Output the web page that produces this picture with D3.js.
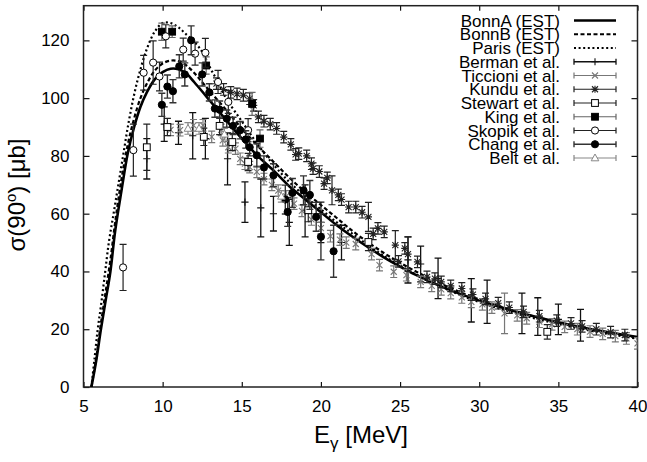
<!DOCTYPE html>
<html><head><meta charset="utf-8">
<script src="https://cdn.jsdelivr.net/npm/d3@7"></script>
<style>body{margin:0;background:#fff} svg{display:block} text{font-family:"Liberation Sans",Arial,Helvetica,sans-serif;fill:#000}</style>
</head><body><svg id="c" width="647" height="462"></svg>
<script>
// ---- axis ticks ----
const xTicks = [5, 10, 15, 20, 25, 30, 35, 40];
const yTicks = [0, 20, 40, 60, 80, 100, 120];

// ---- model curves ----
const curveE = [5.5, 5.8, 6.1, 6.4, 6.7, 7.0, 7.4, 7.8, 8.2, 8.6, 9.0, 9.5, 10.0, 10.5, 11.0, 11.5, 12.0, 12.5, 13.0, 14.0, 15.0, 16.0, 17.0, 18.0, 19.0, 20.0, 21.0, 22.0, 23.0, 24.0, 25.0, 26.0, 27.0, 28.0, 29.0, 30.0, 31.0, 32.0, 33.0, 34.0, 35.0, 36.0, 37.0, 38.0, 39.0, 40.0];
const bonnA = [0, 9, 20, 30, 40, 54, 68, 81, 90, 97, 102, 106.5, 109, 110.2, 110, 108.5, 105.5, 102.3, 99, 92.5, 86, 80, 75, 69.5, 65, 60.5, 56, 52, 48.3, 44.8, 41.7, 38.8, 36.2, 33.9, 31.8, 29.9, 28.2, 26.6, 25.1, 23.7, 22.4, 21.2, 20.1, 19.1, 18.2, 17.3];
const bonnB = [0, 10, 22, 33, 44, 57, 72, 84, 93, 100, 105, 109.5, 112, 113, 112.8, 111.3, 108.7, 105.5, 102.3, 96, 89.5, 83.5, 78, 72.5, 67.5, 63, 58.5, 54, 50, 46.3, 43, 40, 37.2, 34.7, 32.4, 30.3, 28.4, 26.7, 25.1, 23.7, 22.3, 21.0, 19.9, 18.9, 18.0, 17.1];
const parisE = [5.5, 5.7, 5.9, 6.1, 6.35, 6.6, 6.9, 7.2, 7.5, 7.8, 8.15, 8.5, 9.0, 9.5, 10.0, 10.5, 11.0, 11.5, 12.0, 12.5, 13.0, 13.5, 14.0, 15.0, 16.0, 17.0, 18.0, 19.0, 20.0, 21.0, 22.0, 23.0, 24.0, 25.0, 26.0, 27.0, 28.0, 29.0, 30.0, 31.0, 32.0, 33.0, 34.0, 35.0, 36.0, 37.0, 38.0, 39.0, 40.0];
const paris = [0, 10, 20, 28, 39, 50, 60, 70, 80, 90, 100, 108, 117, 123, 126, 126, 124.5, 122, 119.5, 116, 110.5, 105.5, 100, 92, 84, 77, 71, 66, 61.5, 57, 53, 49, 45.3, 42, 39, 36.2, 33.7, 31.4, 29.4, 27.6, 26, 24.5, 23.1, 21.8, 20.6, 19.5, 18.5, 17.6, 16.7];

// ---- experimental data: energy, cross section, error ----
const bermanE = [9.0, 10.1, 11.0, 11.9, 12.7, 14.1, 15.2, 16.2, 17.0, 18.0, 19.0, 20.0, 21.3, 25.5, 26.3, 27.4, 29.5, 30.5, 32.7, 33.7, 35.0, 36.4];
const bermanS = [79, 91, 88, 87, 86, 79, 64, 62, 60, 57, 61, 57, 50, 44, 42.6, 37.6, 30, 29.5, 25.5, 24.4, 23.4, 21.4];
const bermanErr = [7, 6, 4, 8, 7, 9, 7, 10, 6, 8, 9, 7, 6, 8, 6.2, 7, 7.5, 7.5, 7, 6.5, 5.3, 5.5];

const ticcE = [10.5, 11.1, 11.95, 12.55, 13.1, 13.7, 13.8, 14.15, 14.6, 14.9, 15.2, 15.5, 15.95, 16.4, 16.9, 17.3, 17.8, 18.3, 18.8, 19.4, 20.0, 20.6, 21.2, 21.6, 22.2, 23.2, 23.7, 24.6, 25.4, 26.3, 27.0, 27.6, 28.2, 28.9, 29.5, 30.2, 30.8, 31.6, 32.4, 33.0, 33.8, 34.6, 35.4, 36.2, 37.0, 37.8, 38.6, 39.3, 40.0];
const ticcS = [89, 88.9, 90.6, 90.6, 86.6, 89, 85.4, 83, 82.5, 79, 77.3, 76.1, 74.5, 72, 70, 68, 66, 63.5, 61, 58, 55, 52.2, 51, 50, 49.5, 46, 42.2, 39.9, 38.7, 36.4, 35, 33.8, 32.5, 31, 29.5, 28.6, 27.5, 25.5, 24.8, 23.8, 22.6, 21.7, 20.8, 20, 19.2, 18.4, 17.6, 16.8, 15.1];
const ticcErr = [2, 2, 2, 2, 2, 2, 2, 2, 2, 2, 2, 2, 2, 2, 2, 2, 2, 2, 2, 2, 2, 2, 2, 2, 2, 2, 2, 2, 2, 2, 2, 2, 2, 2, 2, 2, 2, 7, 2, 2, 2, 2, 2, 2, 2, 2, 2, 2, 2];

const kunduE = [13.4, 13.85, 14.3, 14.7, 15.1, 15.5, 15.75, 16.05, 16.4, 16.8, 17.2, 17.65, 18.1, 18.4, 18.6, 19.1, 19.4, 19.5, 19.9, 20.2, 20.4, 20.7, 21.1, 21.3, 21.75, 22.2, 22.6, 23.0, 23.3, 23.6, 24.0, 24.7, 24.9, 25.3, 25.5, 26.1, 26.7, 27.2, 27.6, 28.2, 28.9, 29.6, 30.4, 31.2, 31.9, 32.8, 33.8, 34.9, 35.8, 36.5, 37.4, 38.3, 39.2];
const kunduS = [105, 103, 102, 101.5, 101, 99.8, 97.5, 93.5, 92, 91, 89.5, 86.5, 84, 80.5, 80.8, 80, 77.3, 75.6, 74.6, 70.4, 72.4, 68.1, 66.5, 64.9, 62.3, 62.3, 60.5, 58.9, 53, 54.9, 53.7, 49.1, 43.5, 48, 46, 43.3, 38.1, 37.5, 36.4, 35, 34.1, 32, 30.5, 29, 27.5, 26, 24.5, 23, 22, 21, 20, 19, 18];
const kunduErr = [2, 2, 2, 2, 2, 2, 2, 2, 2, 2, 2, 2, 2, 2, 2, 2, 2, 2, 2, 2, 2, 5, 2, 2, 2, 2, 2, 5, 2, 2, 2, 5, 2, 2, 6, 2, 2, 2, 2, 2, 2, 2, 2, 2, 2, 2, 2, 2, 2, 2, 2, 2, 2];

const stewartE = [9.0, 10.3, 12.6, 13.6, 14.4, 15.4, 19.2, 23.0, 34.3];
const stewartS = [83, 90, 86.6, 90.4, 84.8, 77.9, 61.2, 50.2, 19.1];
const stewartErr = [8, 3, 3, 3, 3, 3, 4, 3, 2.5];

const kingE = [9.95, 10.6, 12.75, 15.65, 16.15];
const kingS = [123, 123, 111.3, 98, 86];
const kingErr = [3, 2, 3, 4, 3];

const skopikE = [7.5, 8.15, 8.8, 9.4, 9.8, 10.2, 11.3, 12.05, 12.7, 13.5, 14.15, 15.4];
const skopikS = [41.4, 82, 108.8, 112.3, 107.5, 121.4, 116.8, 115.4, 115.7, 105.6, 98.7, 88.9];
const skopikErr = [8, 9, 6, 7.5, 5, 4, 4, 4, 5, 4, 4, 4];

const changE = [9.95, 10.3, 10.65, 11.05, 11.4, 11.8, 12.5, 12.95, 13.3, 13.6, 14.05, 14.45, 14.9, 15.25, 15.5, 15.95, 16.4, 17.0, 17.75, 17.9, 18.2, 18.9, 19.3, 19.7, 20.0, 20.8];
const changS = [97.7, 104, 102.4, 111, 108.2, 120, 108.2, 102, 96.4, 96, 92.9, 90.4, 88.9, 85.7, 83, 80.2, 76, 73.3, 64.9, 60.6, 67.2, 68.1, 66.5, 58.9, 52, 47];
const changErr = [4, 4, 4, 4, 4, 5, 4, 3, 3, 3, 3, 3, 3, 3, 3, 4, 4, 4, 5, 5, 5, 5, 5, 5, 8, 9];

const beltE = [11.6, 12.3, 13.9, 17.5];
const beltS = [89.5, 89.5, 87.5, 66];
const beltErr = [2, 2, 2, 2];

const legendLabels = ["BonnA (EST)", "BonnB (EST)", "Paris (EST)", "Berman et al.", "Ticcioni et al.", "Kundu et al.", "Stewart et al.", "King et al.", "Skopik et al.", "Chang et al.", "Belt et al."];

// ---- drawing ----
const svg = d3.select("#c");
const L = 83.5, R = 637.5, T = 5.7, B = 387;
const x = d3.scaleLinear().domain([5, 40]).range([L, R]);
const y = d3.scaleLinear().domain([0, 132]).range([B, T]);

svg.append("defs").append("clipPath").attr("id", "clip")
  .append("rect").attr("x", L).attr("y", T).attr("width", R - L).attr("height", B - T);

// axes
const tickFont = "17px";
const gx = svg.append("g").attr("transform", `translate(0,${B})`)
  .call(d3.axisBottom(x).tickValues(xTicks).tickSizeInner(-5).tickSizeOuter(0).tickPadding(13).tickFormat(d3.format("d")));
const gy = svg.append("g").attr("transform", `translate(${L},0)`)
  .call(d3.axisLeft(y).tickValues(yTicks).tickSizeInner(-6).tickSizeOuter(0).tickPadding(14).tickFormat(d3.format("d")));
const gt = svg.append("g").attr("transform", `translate(0,${T})`)
  .call(d3.axisTop(x).tickValues(xTicks).tickSizeInner(-5).tickSizeOuter(0).tickFormat(""));
const gr = svg.append("g").attr("transform", `translate(${R},0)`)
  .call(d3.axisRight(y).tickValues(yTicks).tickSizeInner(-6).tickSizeOuter(0).tickFormat(""));
[gx, gy, gt, gr].forEach(g => {
  g.select(".domain").remove();
  g.selectAll("line").attr("stroke", "#111").attr("stroke-width", 1.2);
  g.selectAll("text").style("font-size", tickFont).style("font-family", '"Liberation Sans",Arial,sans-serif').attr("fill", "#000");
});
svg.append("rect").attr("x", L).attr("y", T).attr("width", R - L).attr("height", B - T)
  .attr("fill", "none").attr("stroke", "#222").attr("stroke-width", 1.5);

// axis labels
const yl = svg.append("text").attr("transform", "translate(25,195) rotate(-90)")
  .attr("text-anchor", "middle").style("font-size", "24px");
yl.append("tspan").text("σ(90");
yl.append("tspan").attr("dy", -9).style("font-size", "15px").text("o");
yl.append("tspan").attr("dy", 9).text(") [μb]");
const xl = svg.append("text").attr("x", 361).attr("y", 443).attr("text-anchor", "middle").style("font-size", "24px");
xl.append("tspan").text("E");
xl.append("tspan").attr("dy", 6).style("font-size", "17px").text("γ");
xl.append("tspan").attr("dy", -6).text(" [MeV]");

const plot = svg.append("g").attr("clip-path", "url(#clip)");

// model curves
const line = d3.line().x(d => x(d[0])).y(d => y(d[1])).curve(d3.curveCatmullRom.alpha(0.5));
const curves = [
  { pts: d3.zip(curveE, bonnA), dash: null, w: 2.6 },
  { pts: d3.zip(curveE, bonnB), dash: "4,2.5", w: 2.2 },
  { pts: d3.zip(parisE, paris), dash: "2,2.6", w: 2.2 }
];
curves.forEach(c => {
  plot.append("path").attr("d", line(c.pts)).attr("fill", "none").attr("stroke", "#000")
    .attr("stroke-width", c.w).attr("stroke-dasharray", c.dash);
});

// markers
function marker(g, type, cx, cy, col) {
  const s = 3.6;
  if (type === "plus") {
    g.append("path").attr("d", `M${cx - s},${cy}H${cx + s}M${cx},${cy - s}V${cy + s}`).attr("stroke", col).attr("stroke-width", 1.1);
  } else if (type === "cross") {
    const k = 3;
    g.append("path").attr("d", `M${cx - k},${cy - k}L${cx + k},${cy + k}M${cx - k},${cy + k}L${cx + k},${cy - k}`).attr("stroke", col).attr("stroke-width", 1.1);
  } else if (type === "star") {
    const k = 3;
    g.append("path").attr("d", `M${cx - k},${cy - k}L${cx + k},${cy + k}M${cx - k},${cy + k}L${cx + k},${cy - k}M${cx - s},${cy}H${cx + s}M${cx},${cy - s}V${cy + s}`).attr("stroke", col).attr("stroke-width", 1.1);
  } else if (type === "sqOpen" || type === "sqFill") {
    g.append("rect").attr("x", cx - 3.4).attr("y", cy - 3.4).attr("width", 6.8).attr("height", 6.8)
      .attr("fill", type === "sqFill" ? "#000" : "#fff").attr("stroke", "#000").attr("stroke-width", 1);
  } else if (type === "circOpen" || type === "circFill") {
    g.append("circle").attr("cx", cx).attr("cy", cy).attr("r", 3.6)
      .attr("fill", type === "circFill" ? "#000" : "#fff").attr("stroke", "#000").attr("stroke-width", 1);
  } else if (type === "tri") {
    g.append("path").attr("d", `M${cx},${cy - 4}L${cx + 3.8},${cy + 2.8}L${cx - 3.8},${cy + 2.8}Z`)
      .attr("fill", "#fff").attr("stroke", col).attr("stroke-width", 1);
  }
}

const sets = [
  { E: bermanE, S: bermanS, Er: bermanErr, type: "plus", col: "#111", w: 1.3 },
  { E: ticcE, S: ticcS, Er: ticcErr, type: "cross", col: "#777", w: 1.2 },
  { E: kunduE, S: kunduS, Er: kunduErr, type: "star", col: "#222", w: 1.2 },
  { E: stewartE, S: stewartS, Er: stewartErr, type: "sqOpen", col: "#222", w: 1.2 },
  { E: kingE, S: kingS, Er: kingErr, type: "sqFill", col: "#666", w: 1.2 },
  { E: skopikE, S: skopikS, Er: skopikErr, type: "circOpen", col: "#222", w: 1.2 },
  { E: changE, S: changS, Er: changErr, type: "circFill", col: "#333", w: 1.4 },
  { E: beltE, S: beltS, Er: beltErr, type: "tri", col: "#888", w: 1.2 }
];

sets.forEach(st => {
  const g = plot.append("g");
  st.E.forEach((e, i) => {
    const cx = x(e), y1 = y(st.S[i] + st.Er[i]), y0 = y(st.S[i] - st.Er[i]);
    g.append("path").attr("d", `M${cx},${y1}V${y0}M${cx - 3.5},${y1}H${cx + 3.5}M${cx - 3.5},${y0}H${cx + 3.5}`)
      .attr("stroke", st.col).attr("stroke-width", st.w).attr("fill", "none");
  });
  st.E.forEach((e, i) => marker(g, st.type, x(e), y(st.S[i]), st.col));
});

// legend
const lg = svg.append("g");
const ly0 = 20.5, ldy = 13.75, tx = 560, sx0 = 574, sx1 = 616;
legendLabels.forEach((lab, i) => {
  const cy = ly0 + i * ldy;
  lg.append("text").attr("x", tx).attr("y", cy + 6).attr("text-anchor", "end").style("font-size", "17px").text(lab);
  if (i < 3) {
    const c = curves[i];
    lg.append("line").attr("x1", sx0).attr("x2", sx1).attr("y1", cy).attr("y2", cy)
      .attr("stroke", "#000").attr("stroke-width", c.w).attr("stroke-dasharray", c.dash);
  } else {
    const st = sets[i - 3];
    lg.append("path").attr("d", `M${sx0},${cy}H${sx1}M${sx0},${cy - 3}V${cy + 3}M${sx1},${cy - 3}V${cy + 3}`)
      .attr("stroke", st.col).attr("stroke-width", st.w).attr("fill", "none");
    marker(lg, st.type, (sx0 + sx1) / 2, cy, st.col);
  }
});
</script></body></html>
